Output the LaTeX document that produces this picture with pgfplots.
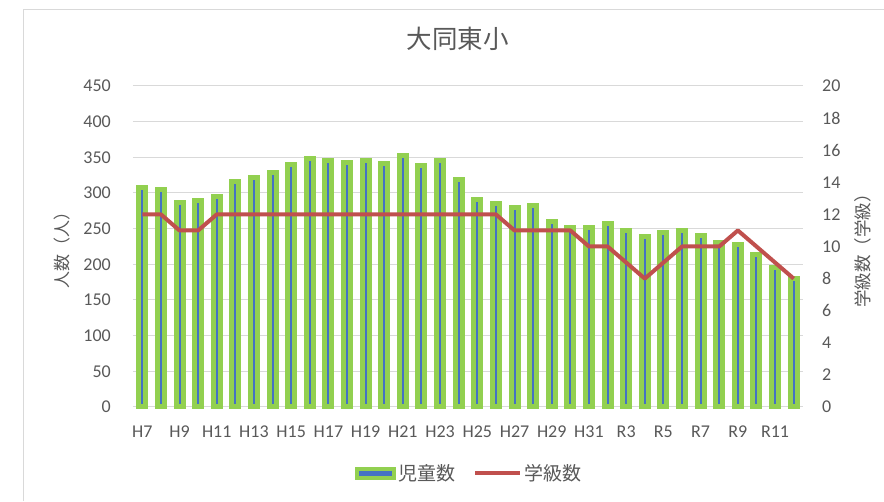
\documentclass[border=0pt]{standalone}
\usepackage{fontspec}
\setmainfont{Carlito}
\newfontfamily\cjk{Noto Sans CJK JP}
\usepackage{pgfplots}
\pgfplotsset{compat=1.18}
\definecolor{xlblue}{HTML}{4472C4}
\definecolor{xlgreen}{HTML}{92D050}
\definecolor{xlred}{HTML}{C0504D}
\definecolor{gridc}{HTML}{D9D9D9}
\definecolor{txt}{HTML}{595959}
\pgfplotstableread{
x pupils classes
0 308 12
1 305 12
2 286 11
3 290 11
4 295 12
5 316 12
6 322 12
7 329 12
8 340 12
9 349 12
10 345 12
11 343 12
12 345 12
13 341 12
14 352 12
15 339 12
16 346 12
17 319 12
18 291 12
19 285 12
20 279 11
21 283 11
22 260 11
23 252 11
24 251 10
25 257 10
26 247 9
27 239 8
28 245 9
29 248 10
30 241 10
31 231 10
32 228 11
33 214 10
34 195 9
35 180 8
}\datatable
\begin{document}
\begin{tikzpicture}
\path[use as bounding box, fill=white] (0,0) rectangle (884pt,501pt);
\draw[gridc, line width=1pt] (23pt,0pt) -- (23pt,491pt) -- (884pt,491pt);
\begin{axis}[
  at={(133pt,94pt)}, anchor=south west,
  width=670pt, height=321pt, scale only axis,
  xmin=-0.5, xmax=35.5, ymin=0, ymax=450,
  ytick={0,50,...,450},
  xtick={0,2,...,34},
  xticklabels={H7,H9,H11,H13,H15,H17,H19,H21,H23,H25,H27,H29,H31,R3,R5,R7,R9,R11},
  axis line style={draw=none},
  major tick length=0pt,
  ymajorgrids, grid style={gridc, line width=1pt},
  clip=false,
  /pgf/number format/assume math mode=true,
  tick label style={font=\fontsize{18}{20}\selectfont, text=txt},
  yticklabel style={inner sep=0pt, xshift=-22pt},
  xticklabel style={inner sep=0pt, yshift=-19pt},
  title={\cjk 大同東小},
  title style={at={(axis description cs:0.485,1.128)}, anchor=center, font=\fontsize{25.5}{28}\selectfont, text=txt},
  ylabel={\cjk 人数（人）},
  every axis y label/.style={at={(axis description cs:-0.106,0.5)}, anchor=center, rotate=90, font=\fontsize{17}{20}\selectfont, text=txt},
]
\addplot[ybar, bar width=7pt, fill=xlblue, draw=xlgreen, line width=5pt] table[x=x, y=pupils] {\datatable};
\end{axis}
\begin{axis}[
  at={(133pt,94pt)}, anchor=south west,
  width=670pt, height=321pt, scale only axis,
  xmin=-0.5, xmax=35.5, ymin=0, ymax=20,
  ytick={0,2,...,20},
  axis y line*=right,
  hide x axis,
  axis line style={draw=none},
  major tick length=0pt,
  clip=false,
  /pgf/number format/assume math mode=true,
  tick label style={font=\fontsize{18}{20}\selectfont, text=txt},
  yticklabel style={inner sep=0pt, anchor=west, xshift=19pt},
  ylabel={\cjk 学級数（学級）},
  every axis y label/.style={at={(axis description cs:1.0896,0.5)}, anchor=center, rotate=90, font=\fontsize{17.5}{20}\selectfont, text=txt},
  legend columns=2,
  legend style={at={(axis description cs:0.502,-0.206)}, anchor=center, draw=none, fill=none,
    font=\cjk\fontsize{19}{21}\selectfont, text=txt,
    /tikz/every even column/.append style={column sep=16pt}},
]
\addlegendimage{legend image code/.code={\draw[draw=xlgreen, fill=xlblue, line width=4pt] (0pt,-4.5pt) rectangle (37pt,4.5pt);}}
\addlegendentry{児童数}
\addplot[xlred, line width=4pt, line join=round,
  legend image code/.code={\draw[xlred, line width=4pt] (0pt,0pt) -- (45pt,0pt);}]
  table[x=x, y=classes] {\datatable};
\addlegendentry{学級数}
\end{axis}
\end{tikzpicture}
\end{document}
